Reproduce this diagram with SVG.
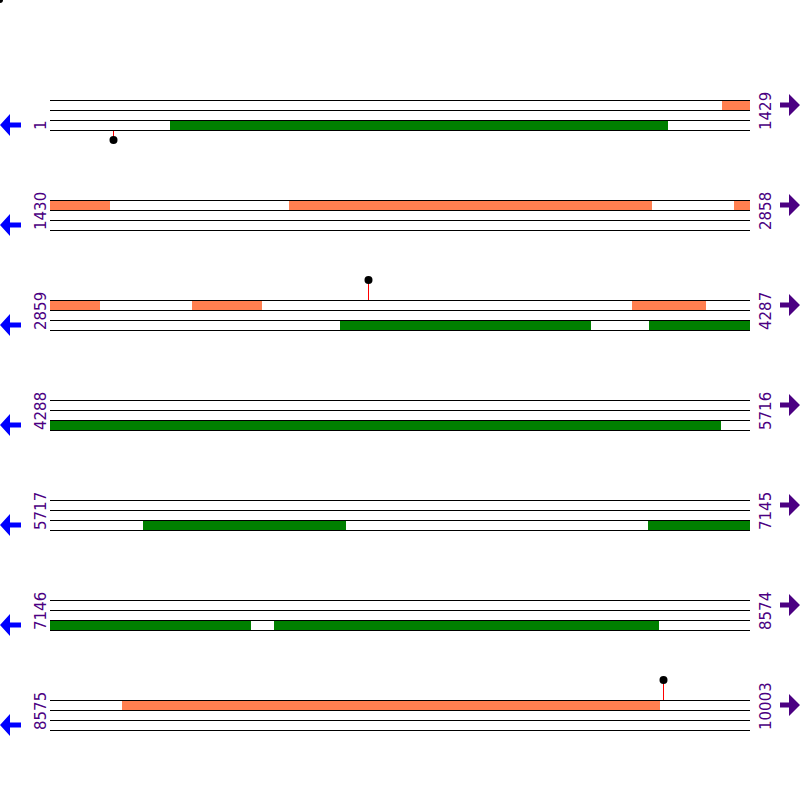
<svg xmlns="http://www.w3.org/2000/svg" width="800" height="800" viewBox="0 0 800 800">
<defs>
<style>
.ln{stroke:#000;stroke-width:1;fill:none}
.or{fill:#FF7F50}
.gr{fill:#008000}
.lbl{font-family:"DejaVu Sans",Verdana,sans-serif;font-size:15px;fill:#4B0082}
.la{fill:#0000FF}
.ra{fill:#4B0082}
.stem{stroke:#FF0000;stroke-width:1}
.dot{fill:#000}
</style>
<g id="track">
<line class="ln" x1="50" y1="0.5" x2="750" y2="0.5"/>
<line class="ln" x1="50" y1="10.5" x2="750" y2="10.5"/>
<line class="ln" x1="50" y1="20.5" x2="750" y2="20.5"/>
<line class="ln" x1="50" y1="30.5" x2="750" y2="30.5"/>
</g>
<polygon id="larrow" class="la" points="0,25 10,14 10,22.5 21,22.5 21,27.5 10,27.5 10,36"/>
<polygon id="rarrow" class="ra" points="800,5 789,-6 789,2.5 780,2.5 780,7.5 789,7.5 789,16"/>
</defs>
<circle class="dot" cx="0" cy="0" r="3"/>
<g id="row1">
<rect class="or" x="722" y="100.5" width="28" height="10"/>
<rect class="gr" x="170" y="120.5" width="498" height="10"/>
<use href="#track" y="100"/>
<use href="#larrow" y="100"/>
<use href="#rarrow" y="100"/>
<text class="lbl" transform="translate(46,130) rotate(-90)">1</text>
<text class="lbl" transform="translate(771,130) rotate(-90)">1429</text>
</g>
<g id="row2">
<rect class="or" x="50" y="200.5" width="60" height="10"/>
<rect class="or" x="289" y="200.5" width="363" height="10"/>
<rect class="or" x="734" y="200.5" width="16" height="10"/>
<use href="#track" y="200"/>
<use href="#larrow" y="200"/>
<use href="#rarrow" y="200"/>
<text class="lbl" transform="translate(46,230) rotate(-90)">1430</text>
<text class="lbl" transform="translate(771,230) rotate(-90)">2858</text>
</g>
<g id="row3">
<rect class="or" x="50" y="300.5" width="50" height="10"/>
<rect class="or" x="192" y="300.5" width="70" height="10"/>
<rect class="or" x="632" y="300.5" width="74" height="10"/>
<rect class="gr" x="340" y="320.5" width="251" height="10"/>
<rect class="gr" x="649" y="320.5" width="101" height="10"/>
<use href="#track" y="300"/>
<use href="#larrow" y="300"/>
<use href="#rarrow" y="300"/>
<text class="lbl" transform="translate(46,330) rotate(-90)">2859</text>
<text class="lbl" transform="translate(771,330) rotate(-90)">4287</text>
</g>
<g id="row4">
<rect class="gr" x="50" y="420.5" width="671" height="10"/>
<use href="#track" y="400"/>
<use href="#larrow" y="400"/>
<use href="#rarrow" y="400"/>
<text class="lbl" transform="translate(46,430) rotate(-90)">4288</text>
<text class="lbl" transform="translate(771,430) rotate(-90)">5716</text>
</g>
<g id="row5">
<rect class="gr" x="143" y="520.5" width="203" height="10"/>
<rect class="gr" x="648" y="520.5" width="102" height="10"/>
<use href="#track" y="500"/>
<use href="#larrow" y="500"/>
<use href="#rarrow" y="500"/>
<text class="lbl" transform="translate(46,530) rotate(-90)">5717</text>
<text class="lbl" transform="translate(771,530) rotate(-90)">7145</text>
</g>
<g id="row6">
<rect class="gr" x="50" y="620.5" width="201" height="10"/>
<rect class="gr" x="274" y="620.5" width="385" height="10"/>
<use href="#track" y="600"/>
<use href="#larrow" y="600"/>
<use href="#rarrow" y="600"/>
<text class="lbl" transform="translate(46,630) rotate(-90)">7146</text>
<text class="lbl" transform="translate(771,630) rotate(-90)">8574</text>
</g>
<g id="row7">
<rect class="or" x="122" y="700.5" width="538" height="10"/>
<use href="#track" y="700"/>
<use href="#larrow" y="700"/>
<use href="#rarrow" y="700"/>
<text class="lbl" transform="translate(46,730) rotate(-90)">8575</text>
<text class="lbl" transform="translate(771,730) rotate(-90)">10003</text>
</g>
<g id="connectors">
<line class="stem" x1="113.5" y1="131" x2="113.5" y2="140"/>
<circle class="dot" cx="113.5" cy="140" r="4"/>
<line class="stem" x1="368.5" y1="280" x2="368.5" y2="300"/>
<circle class="dot" cx="368.5" cy="280" r="4"/>
<line class="stem" x1="663.5" y1="680" x2="663.5" y2="700"/>
<circle class="dot" cx="663.5" cy="680" r="4"/>
</g>
</svg>
